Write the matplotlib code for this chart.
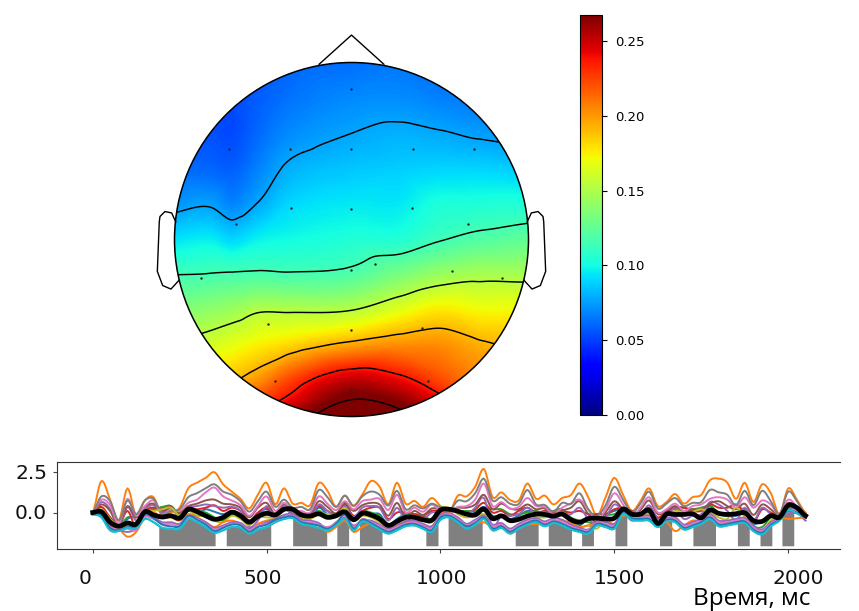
import numpy as np
import matplotlib
matplotlib.use("Agg")
import matplotlib.pyplot as plt
from matplotlib.patches import Circle
from matplotlib.tri import Triangulation, CubicTriInterpolator

grid_x = [-1.01, -0.8, -0.675, -0.53, -0.35, 0.0, 0.275, 0.5, 0.725, 1.01]
grid_y = [1.01, 0.79, 0.6, 0.39, 0.195, 0.0, -0.2, -0.4, -0.6, -0.79, -0.905, -1.01]
topo_cols = [
    [.050, .053, .056, .062, .073, .093, .115, .135, .155, .170, .180, .190],
    [.051, .053, .055, .061, .076, .096, .116, .140, .162, .182, .194, .205],
    [.054, .053, .053, .059, .069, .090, .117, .144, .168, .188, .200, .215],
    [.057, .058, .061, .068, .078, .097, .118, .151, .175, .200, .220, .240],
    [.060, .064, .070, .080, .090, .100, .117, .151, .182, .222, .240, .262],
    [.062, .070, .077, .086, .095, .104, .120, .153, .197, .250, .272, .285],
    [.064, .071, .080, .088, .095, .105, .133, .167, .203, .240, .263, .280],
    [.060, .068, .078, .090, .103, .114, .143, .177, .203, .222, .240, .255],
    [.060, .066, .075, .090, .104, .120, .148, .172, .194, .205, .215, .220],
    [.060, .066, .072, .087, .105, .125, .148, .172, .188, .200, .205, .210],
]
contour_levels = [0.077, 0.115, 0.153, 0.191, 0.235, 0.272]
vmax = 0.2674

sensor_x = [0, -.69, -.35, 0, .35, .69, -.34, 0, .34, -.65, .66, 0, .135, .57, -.85, .85, -.47, 0, .4, -.43, .43, 0]
sensor_y = [.85, .51, .51, .51, .51, .51, .18, .17, .18, .09, .09, -.17, -.14, -.18, -.22, -.22, -.48, -.51, -.5, -.8, -.8, -.85]

nose_x = [-.183, 0, .183]
nose_y = [.99, 1.155, .99]
ear_x = [-.993, -1.016, -1.054, -1.082, -1.086, -1.097, -1.067, -1.02, -.974]
ear_y = [.10, .15, .158, .13, .10, -.18, -.26, -.28, -.23]

# lower panel, one value every 25 ms
step_ms = 25
blue = [-.1,0,-.3,-1,-.4,-.2,.05,.2,.3,.4,-.2,.3,0,.2,.05,-.1,.1,-.1,-.7,-.1,.2,-.3,.2,-.1,-.3,-.4,.3,-.1,-.2,.6,-.3,0,-.1,-.1,-.8,-.4,-.1,-.2,-.3,-.4,.1,.15,.05,-.1,0,.35,-.2,-.2,-.4,-.2,.1,.05,-.2,-.1,0,-.5,-.8,-.3,-.1,-.1,.1,.2,-.1,-.2,.15,-.6,.1,.2,-.1,0,-.3,.4,-.1,-.2,-.2,-.1,-.7,-.5,-.2,-.3,.4,.3,-.1]
orange = [0,1.95,.8,-.5,1.5,-.2,.75,.95,-.25,0,.3,1.5,1.85,2.15,2.5,1.75,1.3,.85,.25,1.1,1.85,.5,1.5,.55,.6,.45,1.83,1.35,.35,1.05,.43,1.1,1.95,1.6,.5,1.85,.55,.72,.35,.9,.4,0,1.05,1,1.6,2.7,.95,1.25,.78,.74,1.8,.85,1.05,.5,.9,1.08,1.8,.95,-.2,.95,2.15,1.1,.1,.7,1.5,.4,.65,1.15,.55,.95,1.1,2,2.1,1.85,.85,1.85,.65,1.75,1.2,-.1,1.5,.8,0]
green = [-.1,.1,-.4,-.85,-.3,-.3,.1,.2,.35,.4,-.1,.1,.1,0,-.3,-.5,-.1,-.3,-.6,-.2,0,-.2,.2,.1,-.2,-.3,.1,-.2,-.15,.5,-.3,.1,0,-.2,-.7,-.5,-.2,-.1,-.2,-.4,.3,.2,.1,.1,.1,.3,.2,.2,-.1,-.1,0,.1,-.1,.1,.2,-.3,-.5,-.6,-.7,-.2,-.1,.2,.1,-.1,0,-.4,.1,.3,.3,.2,.3,.4,0,-.1,0,.2,-.8,-.9,-.3,-.2,.2,.2,-.1]
red = [-.1,.35,-.3,-.8,.1,-.9,.1,.3,.2,.35,-.3,.2,.2,.3,.45,.1,.3,.1,-.5,0,.3,-.2,.3,-.1,-.1,-.2,.4,.1,-.1,.45,-.2,.1,.3,.3,-.4,0,0,-.1,-.2,.1,.1,.2,.1,0,.2,.6,0,.1,-.2,.1,.3,0,.1,0,.1,0,.1,-.1,-.1,-.1,.2,.3,.1,-.1,.3,-.3,0,.3,.3,.1,.1,.5,.3,.3,.5,0,-.6,.2,0,-.2,.5,.2,-.2]
purple = [0,.65,.2,-.9,.35,-.5,.2,.45,0,.2,-.2,.3,.4,.5,.4,.3,.35,.1,-.9,-.5,.4,-.2,.35,-.2,-.3,-.4,.5,.1,-.2,.4,-.3,.3,.4,.3,-.5,.3,-.5,-.2,-.4,0,0,.05,.05,-.1,.3,.9,-.9,-.2,-.2,-.1,.3,-.1,0,-.4,-.1,-.1,.3,-.4,-.7,-.3,.5,.1,-.5,-.2,.45,-.4,-.2,.25,-.4,-.2,-.1,.65,.5,.1,-.5,.3,-.5,.3,-.1,-.4,.3,.1,-.5]
brown = [0,.5,.1,-.8,.4,-.3,.35,.55,.1,.3,0,.4,.55,.75,.8,.55,.5,.3,-.3,.3,.6,-.1,.5,.05,0,-.1,.7,.35,-.05,.6,.1,.45,.6,.5,-.2,.6,-.3,.1,-.15,.25,.2,.15,.3,.3,.5,1.1,.2,.55,.25,.2,.5,.2,.25,-.3,.1,.3,.7,-.1,-.6,0,.7,.2,-.3,.15,.75,-.1,.1,.4,0,.2,.2,.55,.7,.4,.2,.55,-.15,.5,.2,-.2,.6,.25,-.2]
pink = [0,.8,.45,-.7,.85,-.2,.4,.75,-.1,.2,.1,.6,.8,1.25,1.55,1,.75,.45,-.2,.4,1,.1,.6,.1,.1,0,1,.55,.15,.7,.2,.7,.8,.85,.15,1.1,0,.3,.05,.5,.1,.1,.35,.4,.8,1.8,.4,.65,.25,.35,.9,.4,.35,-.1,.3,.55,.8,.2,-.5,.2,1.2,.5,-.3,.3,.95,0,.2,.55,.1,.4,.5,.85,.95,.8,.3,.95,.3,.75,.5,-.1,.8,.35,-.3]
gray = [0,1,.7,-.5,.75,-.1,.75,.85,-.1,.1,.2,.95,1.2,1.5,1.75,1.3,1.1,.7,.05,.7,1.3,.35,.8,.3,.35,.2,1.4,.95,.35,1.05,.4,1,1.3,1.1,.43,1.35,.2,.45,.25,.55,.3,.1,.74,.7,1.2,2.1,.74,.95,.55,.53,1.4,.5,.47,.05,.6,.53,1.2,.2,-.2,.45,1.6,.8,0,.55,1.3,.25,.55,.9,.4,.6,.65,1.4,1.25,1.1,.45,1.35,.45,1.35,.7,-.1,1.3,.7,-.1]
olive = [-.1,.2,-.4,-.9,-.8,-.6,.1,.1,.2,.3,-.2,.1,-.2,-.2,-.5,-.6,-.2,-.4,-.8,-.3,-.3,-.3,.1,.2,-.3,-.4,-.1,-.1,-.3,.3,-.5,-.2,-.3,-.6,-.9,-.7,-.4,-.3,-.5,-.6,.2,.3,-.1,-.3,-.2,-.1,-.4,-.2,-.5,-.5,-.2,-.3,-.3,-.2,0,-.5,-.9,-.8,-1,-.4,-.4,.1,-.1,-.2,-.1,-.6,-.2,.1,0,.05,.2,0,-.3,-.4,.3,-.3,-1,-1.2,-.5,-.2,.1,.1,-.2]
cyan = [-.1,-.3,-1.1,-1.15,-.95,-1,-.4,-.6,-.95,-1,-1,-.4,-.6,-.9,-1.25,-1.1,-.9,-.95,-1.3,-1.05,-.9,-.6,-.4,-.35,-.7,-.8,-.95,-1.1,-.8,-.4,-1.1,-.55,-.75,-1.05,-1.3,-1.1,-.85,-.8,-1,-1.2,-.45,-.3,-.6,-1,-.75,-.4,-1.1,-.95,-1.3,-1,-.75,-.6,-.85,-.65,-.8,-1.05,-1.2,-1.3,-.8,-.9,-1,-.1,-.45,-.5,-.5,-.9,-.55,-.6,-1.05,-.9,-.7,-.4,-.85,-.8,-.7,-.65,-1.15,-1.35,-.85,-.5,.15,-.05,-.3]
orange_low = [-.1,-.2,-.8,-1,-1.5,-1.2,-.3,0,-.3,-.3,-.5,-.1,-.3,-.6,-.9,-.6,-.5,-.7,-1.1,-.7,-.5,-.4,-.2,-.3,-.5,-.7,-.8,-1.2,-.9,-.5,-1.2,-.9,-.7,-1,-1.1,-.9,-.6,-.55,-.8,-.9,-.1,0,-.4,-.9,-.7,-.6,-.9,-.8,-1.3,-.9,-.75,-.7,-.75,-.6,-.5,-.65,-.9,-.8,-.7,-.5,-.7,-.2,-.3,-.4,-.3,-.7,-.6,-1.15,-.8,-.5,-.5,-.2,-.7,-.6,-.6,-.5,-.9,-1.1,-.6,-.35,-.4,-.35,-.3]
pink_low = [-.1,-.1,-.9,-1,-1,-1.1,-.3,-.4,-.7,-.7,-.8,-.3,-.4,-.7,-1.05,-.9,-.7,-.75,-1.1,-.8,-.7,-.5,-.25,-.2,-.55,-.6,-.75,-.9,-.65,-.2,-.9,-.4,-.6,-.85,-1.1,-.9,-.7,-.6,-.8,-1,-.25,-.1,-.4,-.8,-.55,-.3,-.85,-.75,-1.1,-.8,-.55,-.45,-.65,-.45,-.6,-.85,-1.05,-1.1,-.65,-.7,-.8,0,-.3,-.35,-.3,-.75,-.4,-.4,-.85,-.7,-.5,-.2,-.6,-.6,-.5,-.45,-.95,-1.15,-.7,-.4,.05,.1,-.25]
blue_low = [-.1,-.2,-.95,-1.1,-.9,-.85,-.1,-.35,-.75,-.85,-.85,-.2,-.45,-.75,-1.15,-.95,-.75,-.8,-1.2,-.9,-.75,-.45,-.3,-.25,-.6,-.7,-.8,-1,-.7,-.1,-1,-.45,-.65,-.95,-1.2,-1,-.75,-.7,-.9,-1.1,-.3,-.2,-.5,-.85,-.65,-.3,-1,-.85,-1.2,-.9,-.65,-.5,-.75,-.55,-.7,-.95,-1.1,-1.2,-.7,-.8,-.9,.05,-.35,-.4,-.4,-.8,-.45,-.5,-.95,-.8,-.6,-.3,-.75,-.7,-.6,-.55,-1.05,-1.25,-.75,-.45,.1,0,-.3]
purple_low = [-.1,-.1,-.85,-1.05,-1.2,-1,-.25,-.3,-.6,-.6,-.7,-.2,-.35,-.6,-.95,-.8,-.6,-.65,-1,-.8,-.6,-.4,-.15,-.1,-.45,-.5,-.65,-1,-.6,-.3,-.8,-.5,-.5,-.75,-1,-.8,-.55,-.5,-.7,-.85,-.15,-.05,-.3,-.7,-.45,-.2,-.75,-.65,-1,-.7,-.45,-.35,-.55,-.35,-.45,-.75,-.95,-1.05,-.6,-.6,-.7,.05,-.2,-.25,-.2,-.65,-.35,-.3,-.75,-.6,-.4,-.1,-.5,-.5,-.4,-.35,-.85,-1.05,-.6,-.35,-.05,-.05,-.35]
mean_line = [0,.05,-.6,-.85,-.65,-.72,.05,-.15,-.28,-.2,-.35,.2,.05,-.2,-.42,-.3,.02,-.2,-.6,-.25,-.05,-.15,.2,.2,-.15,-.22,-.08,-.3,-.2,.05,-.45,-.05,-.15,-.4,-.8,-.55,-.3,-.3,-.45,-.48,.15,.2,.08,-.1,-.15,.22,-.38,-.2,-.5,-.42,-.22,-.1,-.12,-.22,-.1,-.45,-.6,-.38,-.35,-.4,-.35,.22,-.1,-.1,.15,-.68,-.1,-.12,-.12,-.08,-.33,.15,-.05,-.12,-.08,-.02,-.5,-.55,-.2,-.3,.45,.3,-.2]

# significant intervals (gray), ms
sig_start = [190, 384, 575, 702, 767, 958, 1022, 1215, 1310, 1406, 1502, 1630, 1726, 1854, 1919, 1982]
sig_end = [352, 512, 673, 736, 832, 993, 1120, 1281, 1377, 1440, 1536, 1665, 1791, 1888, 1953, 2016]

x_ticks = [0, 500, 1000, 1500, 2000]
y_ticks = [0.0, 2.5]
cbar_ticks = [0.0, 0.05, 0.1, 0.15, 0.2, 0.25]

W, H = 859, 611


def px_axes(fig, left, top, right, bottom):
    return fig.add_axes([left / W, 1 - bottom / H, (right - left) / W, (bottom - top) / H])


def smooth_curve(vals, n=6):
    # Catmull-Rom between the read values, only so the drawn line is not polygonal
    y = np.asarray(vals, dtype=float)
    p = np.concatenate([[y[0]], y, [y[-1]]])
    u = np.arange(n) / n
    segs = []
    for i in range(1, len(p) - 2):
        segs.append(0.5 * (2 * p[i] + (p[i + 1] - p[i - 1]) * u
                           + (2 * p[i - 1] - 5 * p[i] + 4 * p[i + 1] - p[i + 2]) * u ** 2
                           + (3 * p[i] - p[i - 1] - 3 * p[i + 1] + p[i + 2]) * u ** 3))
    out = np.concatenate(segs + [[y[-1]]])
    return np.arange(len(out)) * step_ms / n, out


fig = plt.figure(figsize=(W / 100, H / 100), dpi=100)

# ---------- head ----------
cx, cy, r = 351.5, 239.5, 177
ax = px_axes(fig, cx - 1.15 * r, cy - 1.2 * r, cx + 1.15 * r, cy + 1.03 * r)
ax.set_xlim(-1.15, 1.15)
ax.set_ylim(-1.03, 1.2)
ax.axis("off")

gx, gy = np.meshgrid(grid_x, grid_y, indexing="ij")
tri = Triangulation(gx.ravel(), gy.ravel())
interp = CubicTriInterpolator(tri, np.array(topo_cols).ravel(), kind="geom")
fine = np.linspace(-1.0, 1.0, 400)
fx, fy = np.meshgrid(fine, fine)
field = interp(fx, fy)

head = Circle((0, 0), 1.0, transform=ax.transData, fc="none", ec="none")
ax.add_patch(head)
im = ax.imshow(field, extent=(-1, 1, -1, 1), origin="lower", cmap="jet", vmin=0, vmax=vmax,
               interpolation="bilinear", aspect="auto")
im.set_clip_path(head)
cs = ax.contour(fx, fy, field, levels=contour_levels, colors="k", linewidths=1.05)
cs.set_clip_path(head)
ax.set_xlim(-1.15, 1.15)
ax.set_ylim(-1.03, 1.2)

ax.add_patch(Circle((0, 0), 1.0, fc="none", ec="k", lw=1.1))
ax.plot(nose_x, nose_y, color="k", lw=1.0)
ax.plot(ear_x, ear_y, color="k", lw=1.0)
ax.plot(-np.array(ear_x), ear_y, color="k", lw=1.0)
ax.scatter(sensor_x, sensor_y, s=3, color="#222222", linewidths=0, zorder=5)

# ---------- colorbar ----------
cax = px_axes(fig, 580, 15, 602, 415)
cb = fig.colorbar(im, cax=cax)
cb.set_ticks(cbar_ticks)
cb.set_ticklabels(["%.2f" % v for v in cbar_ticks])
cb.ax.tick_params(labelsize=9.5, length=3.5, width=0.8, pad=6)

# ---------- lower panel ----------
ax2 = px_axes(fig, 56.7, 461.7, 840, 549)
series = [blue, orange, green, red, purple, brown, pink, gray, olive, cyan]
for vals in series:
    ax2.plot(*smooth_curve(vals), lw=1.4)
ax2.plot(*smooth_curve(orange_low), lw=1.4, color="C1")
ax2.plot(*smooth_curve(purple_low), lw=1.4, color="C4")
ax2.plot(*smooth_curve(pink_low), lw=1.4, color="C6")
ax2.plot(*smooth_curve(blue_low), lw=1.4, color="C0")
ax2.plot(*smooth_curve(cyan), lw=1.4, color="C9")
ax2.plot(*smooth_curve(mean_line), lw=3.4, color="k", zorder=5)

t_low, y_low = smooth_curve(cyan)
for s, e in zip(sig_start, sig_end):
    tt = np.linspace(s, e, 40)
    ax2.fill_between(tt, -2.06, np.interp(tt, t_low, y_low), color="gray", lw=0, zorder=0.5)

ax2.set_xlim(-103.5, 2149)
ax2.set_ylim(-2.26, 3.15)
ax2.spines["right"].set_visible(False)
for sp in ax2.spines.values():
    sp.set_color("#333333")
ax2.set_xticks(x_ticks)
ax2.set_yticks(y_ticks)
ax2.tick_params(labelbottom=False, labelleft=False, length=3, width=0.8, color="#444444")

# the tick labels sit a bit off their ticks in the picture
for i, t in enumerate(x_ticks):
    fig.text((85 + 178.2 * i) / W, 1 - 579 / H, str(t), fontsize=14.5, ha="center", va="center", color="#111111")
for v, py in zip(y_ticks, [513.5, 473.5]):
    fig.text(31 / W, 1 - py / H, "%.1f" % v, fontsize=14.5, ha="center", va="center", color="#111111")
fig.text(693 / W, 1 - 605 / H, "Время, мс", fontsize=17.5, family="Open Sans", ha="left", va="baseline", color="k")

fig.savefig("out.png", dpi=100)
